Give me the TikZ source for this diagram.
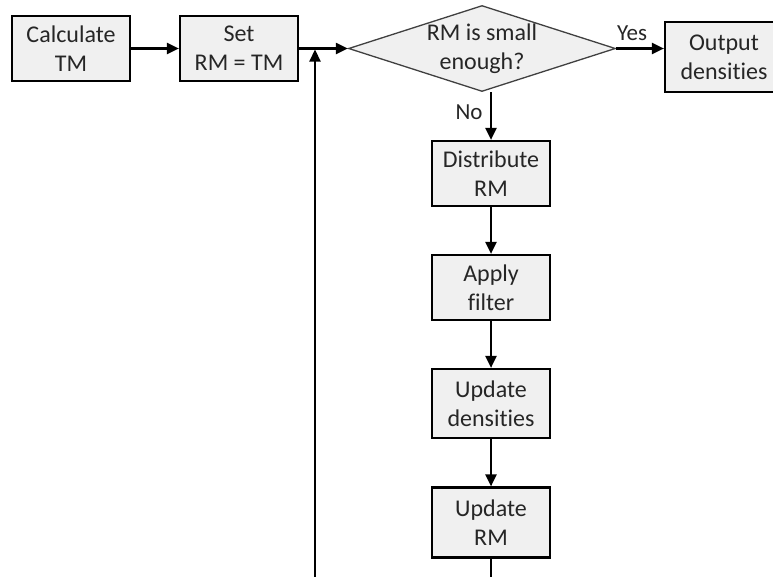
\documentclass[tikz,border=0pt]{standalone}
\usepackage{fontspec}
\setmainfont{Carlito}[Ligatures=NoCommon]
\usetikzlibrary{arrows.meta,shapes.geometric}
\begin{document}
\begin{tikzpicture}[x=1pt,y=-1pt,
  box/.style={draw=black, line width=2.2pt, fill=black!6, minimum width=118pt, inner sep=0pt, align=center, text=black!85, font=\fontsize{24}{29}\selectfont},
  dtext/.style={align=center, inner sep=0pt, text=black!85, font=\fontsize{24}{29}\selectfont},
  lbl/.style={font=\fontsize{23}{27}\selectfont, text=black!85, inner sep=0pt},
  conn/.style={line width=2.2pt, -{Triangle[length=12pt,width=11pt]}}]
\clip (0,0) rectangle (773,576);
\node[box, minimum height=65pt] (calc) at (71,48.5) {Calculate\\TM};
\node[box, minimum height=65pt] (set) at (239,48.5) {Set\\RM = TM};
\node[diamond, draw=black!75, line width=1.3pt, fill=black!6, minimum width=267pt, minimum height=86pt, inner sep=0pt] (dec) at (482,48.5) {};
\node[dtext] (dectext) at (482,49) {RM is small\\enough?};
\node[box, minimum height=70pt] (out) at (724,57) {Output\\densities};
\node[box, minimum height=65pt] (dist) at (491,173.5) {Distribute\\RM};
\node[box, minimum height=65pt] (filt) at (491,287.5) {Apply\\filter};
\node[box, minimum height=69pt] (upd) at (491,403.5) {Update\\densities};
\node[box, minimum height=70pt] (urm) at (491,522.5) {Update\\RM};
\coordinate (j) at (315,49.5);
\draw[conn] (calc.east) -- (set.west);
\draw[conn] (set.east) -- (dec.west);
\draw[conn] (dec.east) -- (dec.east -| out.west);
\draw[conn] (dist.north |- dec.south) -- (dist.north);
\draw[conn] (dist.south) -- (filt.north);
\draw[conn] (filt.south) -- (upd.north);
\draw[conn] (upd.south) -- (urm.north);
\draw[conn] (urm.south) -- ++(0,60) -| (j);
\node[lbl] (yes) at (632,33) {Yes};
\node[lbl] (no) at (469,112) {No};
\end{tikzpicture}
\end{document}
